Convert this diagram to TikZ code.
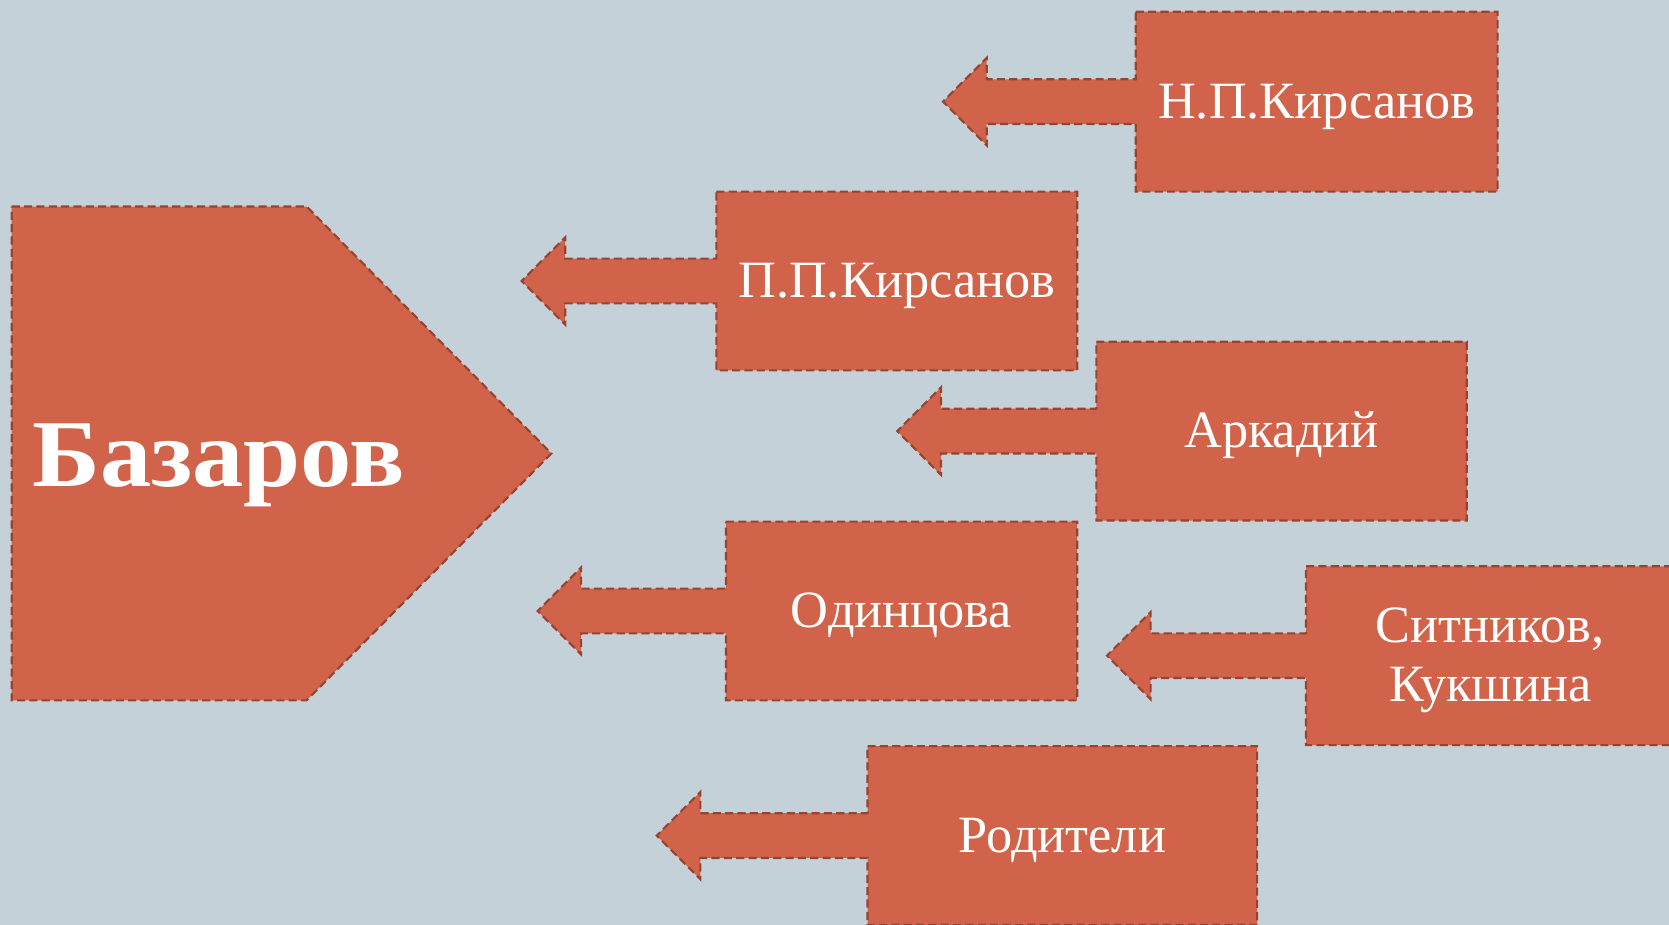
\documentclass[tikz,border=0pt]{standalone}
\usepackage{fontspec}
\usepackage{graphicx}
\setmainfont{Liberation Serif}
\definecolor{bgc}{HTML}{C5D1D8}
\definecolor{boxfill}{HTML}{D0634A}
\definecolor{boxline}{HTML}{984330}
\tikzset{
  callout/.style={fill=boxfill, draw=boxline, line width=1pt, dash pattern=on 3.8pt off 2pt, line join=miter},
  lbl/.style={text=white, font=\fontsize{24.6}{28}\selectfont, inner sep=0pt, anchor=base, align=center},
  bigl/.style={text=white, font=\fontsize{45}{50}\selectfont\bfseries, inner sep=0pt, anchor=base west}
}
\newcommand{\callbox}[7]{%
  \pgfmathsetmacro\cy{(#3+#5)/2}
  \pgfmathsetmacro\cx{(#2+#4)/2}
  \draw[callout] (#2,#3) -- (#4,#3) -- (#4,#5) -- (#2,#5) -- (#2,\cy+21) -- (#6+41,\cy+21) -- (#6+41,\cy+41) -- (#6,\cy) -- (#6+41,\cy-41) -- (#6+41,\cy-21) -- (#2,\cy-21) -- cycle;
  \node[lbl] (#1) at (\cx,\cy+15.5) {#7};
}
\begin{document}
\begin{tikzpicture}[x=0.5pt,y=-0.5pt]
\useasboundingbox (0,0) rectangle (1568,869);
\fill[bgc] (0,0) rectangle (1568,869);
% Bazarov
\draw[callout] (11,194) -- (288,194) -- (518,426) -- (288,658) -- (11,658) -- cycle;
\node[bigl] (baz) at (30,457) {\scalebox{1.07}[1]{Базаров}};
\callbox{np}{1067}{11}{1407}{180}{886}{Н.П.Кирсанов}
\callbox{pp}{673}{180}{1012}{348}{490}{П.П.Кирсанов}
\callbox{ark}{1030}{321}{1378}{489}{843}{Аркадий}
\callbox{odi}{682}{490}{1012}{658}{505}{Одинцова}
\callbox{rod}{815}{701}{1181}{869}{617}{Родители}
% Sitnikov, Kukshina
\pgfmathsetmacro\scy{616}
\draw[callout] (1227,532) -- (1575,532) -- (1575,700) -- (1227,700) -- (1227,\scy+21) -- (1081,\scy+21) -- (1081,\scy+41) -- (1040,\scy) -- (1081,\scy-41) -- (1081,\scy-21) -- (1227,\scy-21) -- cycle;
\node[lbl] (sit) at (1400,604) {Ситников,};
\node[lbl] (kuk) at (1400,659.5) {Кукшина};
\end{tikzpicture}
\end{document}
